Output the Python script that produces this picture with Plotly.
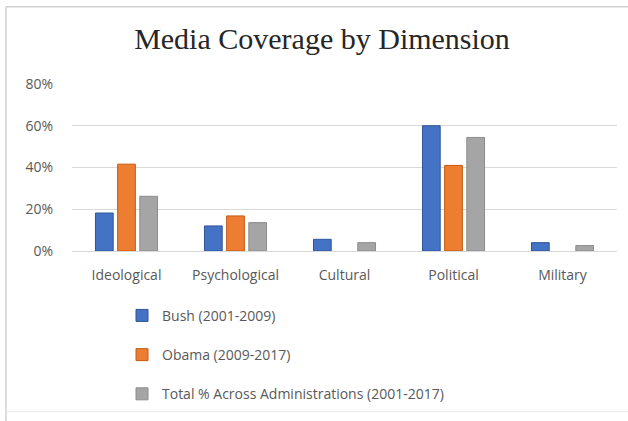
import plotly.graph_objects as go

# Share of media coverage per dimension, by administration
categories = ["Ideological", "Psychological", "Cultural", "Political", "Military"]
bush = [0.182, 0.120, 0.056, 0.600, 0.040]
obama = [0.416, 0.168, 0.0, 0.410, 0.0]
total = [0.262, 0.136, 0.040, 0.544, 0.026]

series_names = [
    "Bush (2001-2009)",
    "Obama (2009-2017)",
    "Total % Across Administrations (2001-2017)",
]
y_ticks = [0, 0.2, 0.4, 0.6, 0.8]

W, H = 628, 421
ML, MR, MT, MB = 72, 11, 84, 166
PW, PH = W - ML - MR, H - MT - MB


def px_x(x):
    return (x - ML) / PW


def px_y(y):
    return (H - MB - y) / PH


fills = ["#4472C4", "#ED7D31", "#A5A5A5"]
edges = ["#2F5597", "#C55A11", "#8C8C8C"]

fig = go.Figure()
for name, vals, fc, ec in zip(series_names, [bush, obama, total], fills, edges):
    # no outline on empty bars so they stay invisible
    widths = [1 if v > 0 else 0 for v in vals]
    fig.add_trace(go.Bar(
        x=categories, y=vals, name=name, legendgroup=name,
        marker=dict(color=fc, line=dict(color=ec, width=widths)),
    ))

# light frame around the chart
frame = dict(type="line", xref="paper", yref="paper",
             line=dict(color="#D0D0D0", width=1.5), layer="below")
shapes = [
    dict(frame, x0=px_x(6), x1=px_x(640), y0=px_y(5), y1=px_y(5)),
    dict(frame, x0=px_x(6), x1=px_x(6), y0=px_y(5), y1=px_y(430)),
    dict(frame, x0=px_x(6), x1=px_x(640), y0=px_y(419.5), y1=px_y(419.5),
         line=dict(color="#EBEBEB", width=1)),
]

fig.update_layout(
    width=W, height=H,
    margin=dict(l=ML, r=MR, t=MT, b=MB),
    paper_bgcolor="white", plot_bgcolor="white",
    barmode="group", bargap=0.39, bargroupgap=0.2,
    title=dict(
        text="Media Coverage by Dimension",
        font=dict(family="Liberation Serif", size=30, color="#262626"),
        x=322 / W, xref="container", xanchor="center",
        y=1 - 49 / H, yanchor="bottom", yref="container",
    ),
    font=dict(family="Open Sans", size=14, color="#595959"),
    xaxis=dict(
        showgrid=False, showline=True, linecolor="#D9D9D9", linewidth=1,
        ticks="", ticklabelstandoff=11,
        tickfont=dict(family="Open Sans", size=14, color="#595959"),
    ),
    yaxis=dict(
        range=[0, 0.8], tickvals=y_ticks, tickformat=".0%",
        showgrid=True, gridcolor="#D9D9D9", gridwidth=1,
        zeroline=False, showline=False, ticks="", ticklabelstandoff=18,
        tickfont=dict(family="Open Sans", size=14, color="#595959"),
    ),
    legend=dict(
        orientation="v", x=px_x(122), xanchor="left",
        y=px_y(305), yanchor="top", tracegroupgap=18,
        font=dict(family="Open Sans", size=14, color="#595959"),
        bgcolor="rgba(0,0,0,0)",
    ),
    shapes=shapes,
)

fig.write_html("out.html")
